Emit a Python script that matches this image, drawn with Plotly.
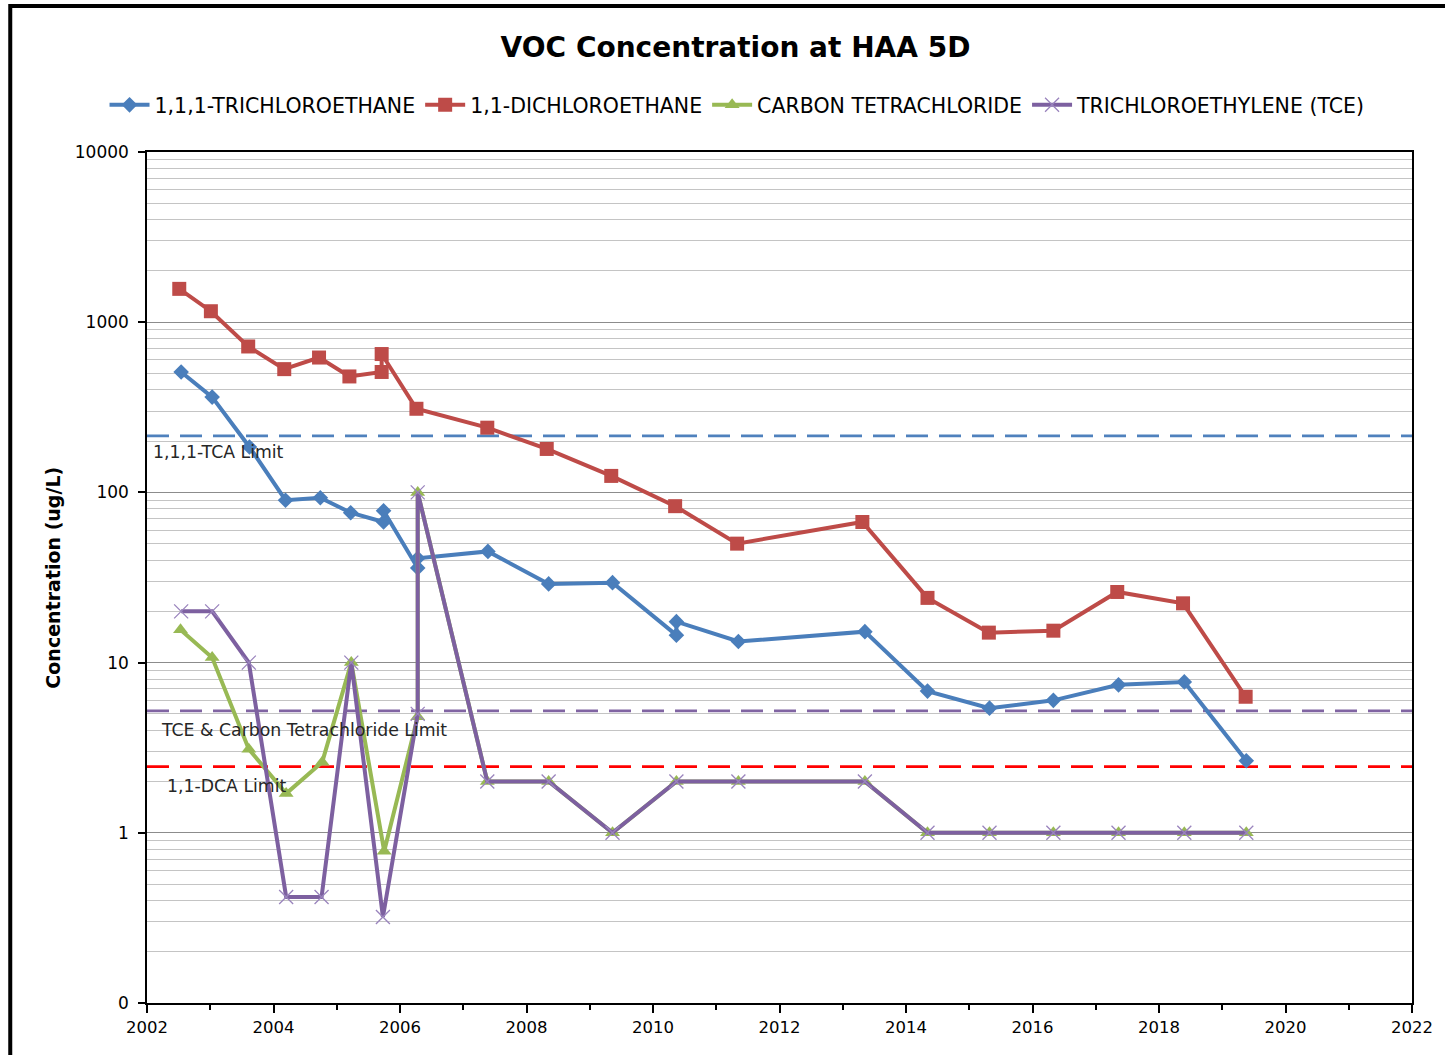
import math
import plotly.graph_objects as go

# ---------------- data ----------------
tca_year = [2002.54, 2003.03, 2003.62, 2004.19, 2004.74, 2005.22, 2005.74, 2005.74, 2006.28, 2006.28,
            2007.39, 2008.35, 2009.36, 2010.37, 2010.37, 2011.35, 2013.35, 2014.34, 2015.32,
            2016.33, 2017.36, 2018.40, 2019.38]
tca_conc = [510, 363, 185, 90, 93, 76, 67, 78, 36, 41,
            45, 29, 29.5, 14.5, 17.4, 13.3, 15.2, 6.8, 5.4,
            6.0, 7.4, 7.7, 2.65]

dca_year = [2002.51, 2003.01, 2003.60, 2004.17, 2004.72, 2005.20, 2005.71, 2005.71, 2006.26,
            2007.38, 2008.32, 2009.34, 2010.35, 2011.33, 2013.31, 2014.34, 2015.31, 2016.33,
            2017.34, 2018.38, 2019.37]
dca_conc = [1570, 1160, 720, 530, 620, 480, 510, 650, 310,
            240, 180, 125, 83, 50, 67, 24, 15, 15.4,
            26, 22.3, 6.3]

ct_year = [2002.53, 2003.03, 2003.61, 2004.20, 2004.77, 2005.23, 2005.75, 2006.28, 2006.28,
           2007.38, 2008.35, 2009.36, 2010.37, 2011.35, 2013.35, 2014.34, 2015.32, 2016.33,
           2017.36, 2018.40, 2019.38]
ct_conc = [15.6, 10.7, 3.1, 1.7, 2.6, 10, 0.78, 4.8, 100,
           2, 2, 1, 2, 2, 2, 1, 1, 1,
           1, 1, 1]

tce_year = [2002.54, 2003.03, 2003.61, 2004.20, 2004.76, 2005.23, 2005.73, 2006.28, 2006.28,
            2007.38, 2008.35, 2009.36, 2010.37, 2011.35, 2013.35, 2014.34, 2015.32, 2016.33,
            2017.36, 2018.40, 2019.38]
tce_conc = [20, 20, 10, 0.42, 0.42, 10, 0.32, 5, 100,
            2, 2, 1, 2, 2, 2, 1, 1, 1,
            1, 1, 1]

limit_names = ["1,1,1-TCA Limit", "TCE & Carbon Tetrachloride Limit", "1,1-DCA Limit"]
limit_values = [215, 5.2, 2.45]
limit_colors = ["#4F81BD", "#8064A2", "#FF0000"]
limit_span = [2002, 2022]

x_major_ticks = [2002, 2004, 2006, 2008, 2010, 2012, 2014, 2016, 2018, 2020, 2022]
x_minor_ticks = [2003, 2005, 2007, 2009, 2011, 2013, 2015, 2017, 2019, 2021]
y_major_ticks = [0.1, 1, 10, 100, 1000, 10000]
y_major_text = ["0", "1", "10", "100", "1000", "10000"]
y_minor_ticks = [m * d for d in [0.1, 1, 10, 100, 1000] for m in range(2, 10)]

FONT = "DejaVu Sans"

fig = go.Figure()

# limit lines
for name, val, col in zip(limit_names, limit_values, limit_colors):
    fig.add_trace(go.Scatter(x=limit_span, y=[val, val], mode="lines", showlegend=False,
                             line=dict(color=col, width=2.8, dash="22px,11px"), hoverinfo="skip"))

series = [
    ("1,1,1-TRICHLOROETHANE", tca_year, tca_conc, "#4A7EBB",
     dict(symbol="diamond", size=12)),
    ("1,1-DICHLOROETHANE", dca_year, dca_conc, "#BE4B48",
     dict(symbol="square", size=14)),
    ("CARBON TETRACHLORIDE", ct_year, ct_conc, "#98B954",
     dict(symbol="triangle-up", size=13)),
    ("TRICHLOROETHYLENE (TCE)", tce_year, tce_conc, "#7D60A0",
     dict(symbol="x-thin", size=14, line=dict(width=1.3, color="#9A84BD"))),
]
for name, xs, ys, col, mk in series:
    m = dict(color=col, **mk)
    fig.add_trace(go.Scatter(x=xs, y=ys, name=name, mode="lines+markers",
                             line=dict(color=col, width=4), marker=m))

# limit labels
label_x = [2002.06, 2002.19, 2002.28]
label_y = [172.8, 4.02, 1.88]
for txt, lx, ly in zip(limit_names, label_x, label_y):
    fig.add_annotation(x=lx, y=math.log10(ly), xref="x", yref="y", text=txt, showarrow=False,
                       xanchor="left", yanchor="middle",
                       font=dict(family=FONT, size=17.3, color="#262626"))

# y-axis title
fig.add_annotation(x=-0.075, y=0.5, xref="paper", yref="paper", text="<b>Concentration (ug/L)</b>",
                   textangle=-90, showarrow=False, xanchor="center", yanchor="middle",
                   font=dict(family=FONT, size=19, color="#000000"))

# outer chart frame
fig.add_shape(type="rect", xref="paper", yref="paper", x0=-0.1081, y0=-0.08, x1=1.04, y1=1.1716,
              line=dict(color="black", width=4), fillcolor="rgba(0,0,0,0)", layer="above")

fig.update_layout(
    width=1445, height=1055,
    margin=dict(l=147, r=31, t=152, b=52),
    paper_bgcolor="white", plot_bgcolor="white",
    font=dict(family=FONT, size=16, color="#000000"),
    title=dict(text="<b>VOC Concentration at HAA 5D</b>", x=0.509, xref="container",
               y=1 - 47 / 1055, yref="container", xanchor="center", yanchor="middle",
               font=dict(family=FONT, size=28, color="#000000")),
    legend=dict(orientation="h", xref="container", yref="container",
                x=0.5104, xanchor="center", y=1 - 105 / 1055, yanchor="middle",
                font=dict(family=FONT, size=20.5, color="#000000"),
                itemwidth=40, bgcolor="rgba(0,0,0,0)"),
    showlegend=True,
)

fig.update_xaxes(range=[2002, 2022], tickmode="array", tickvals=x_major_ticks,
                 ticktext=[str(v) for v in x_major_ticks],
                 ticks="outside", ticklen=8, tickwidth=1.5, tickcolor="black",
                 showgrid=False, zeroline=False,
                 showline=True, linecolor="black", linewidth=1.5, mirror=True,
                 tickfont=dict(family=FONT, size=16.5, color="#000000"),
                 minor=dict(tickmode="array", tickvals=x_minor_ticks, ticks="outside", ticklen=5,
                            tickwidth=1.5, tickcolor="black", showgrid=False))

fig.update_yaxes(type="log", range=[-1, 4], tickmode="array", tickvals=y_major_ticks,
                 ticktext=y_major_text, ticks="outside", ticklen=7, tickwidth=1.5, tickcolor="black",
                 showgrid=True, gridcolor="#8C8C8C", gridwidth=1.3, zeroline=False,
                 showline=True, linecolor="black", linewidth=1.5, mirror=True,
                 ticklabelstandoff=6,
                 tickfont=dict(family=FONT, size=17, color="#000000"),
                 minor=dict(tickmode="array", tickvals=y_minor_ticks, ticks="", showgrid=True,
                            gridcolor="#C4C4C4", gridwidth=1.3))

fig.write_html("out.html", config={"displayModeBar": False},
               post_script="document.body.style.margin='0px';document.body.style.overflow='hidden';")
